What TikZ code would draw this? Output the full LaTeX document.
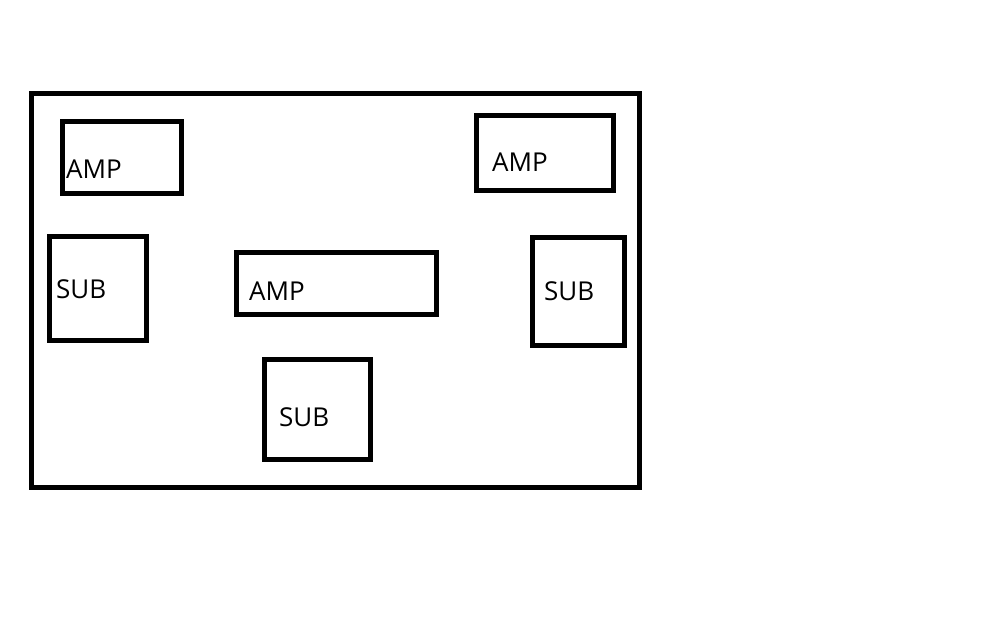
\documentclass[tikz,border=0pt]{standalone}
\usepackage{fontspec}
\setmainfont{Open Sans}
\begin{document}
\begin{tikzpicture}[x=1pt,y=-1pt,
  boxc/.style={draw=black,line width=5pt,inner sep=0pt,outer sep=0pt},
  lbl/.style={anchor=base west,inner sep=0pt,font=\fontsize{26}{31}\selectfont}]
\useasboundingbox (0,0) rectangle (1008,630);
\fill[white] (0,0) rectangle (1008,630);
\newcommand{\mybox}[5]{\node[boxc,minimum width={(#4)-(#2)},minimum height={(#5)-(#3)}] (#1) at ({((#2)+(#4))/2},{((#3)+(#5))/2}) {};}
\mybox{outer}{31}{93.5}{639}{487.5}
\mybox{ampA}{62}{121}{181.5}{193}
\mybox{ampB}{476}{115}{613}{190.5}
\mybox{subA}{49.5}{236}{146}{340.5}
\mybox{ampC}{236}{252.5}{436.5}{314}
\mybox{subB}{532.5}{237}{624.5}{345.5}
\mybox{subC}{264}{359.5}{370.5}{459}
\node[lbl] (tA) at (66,178) {AMP};
\node[lbl] (tB) at (492,171) {AMP};
\node[lbl] (tC) at (56,298) {SUB};
\node[lbl] (tD) at (249,300) {AMP};
\node[lbl] (tE) at (544,300) {SUB};
\node[lbl] (tF) at (279,426) {SUB};
\end{tikzpicture}
\end{document}
